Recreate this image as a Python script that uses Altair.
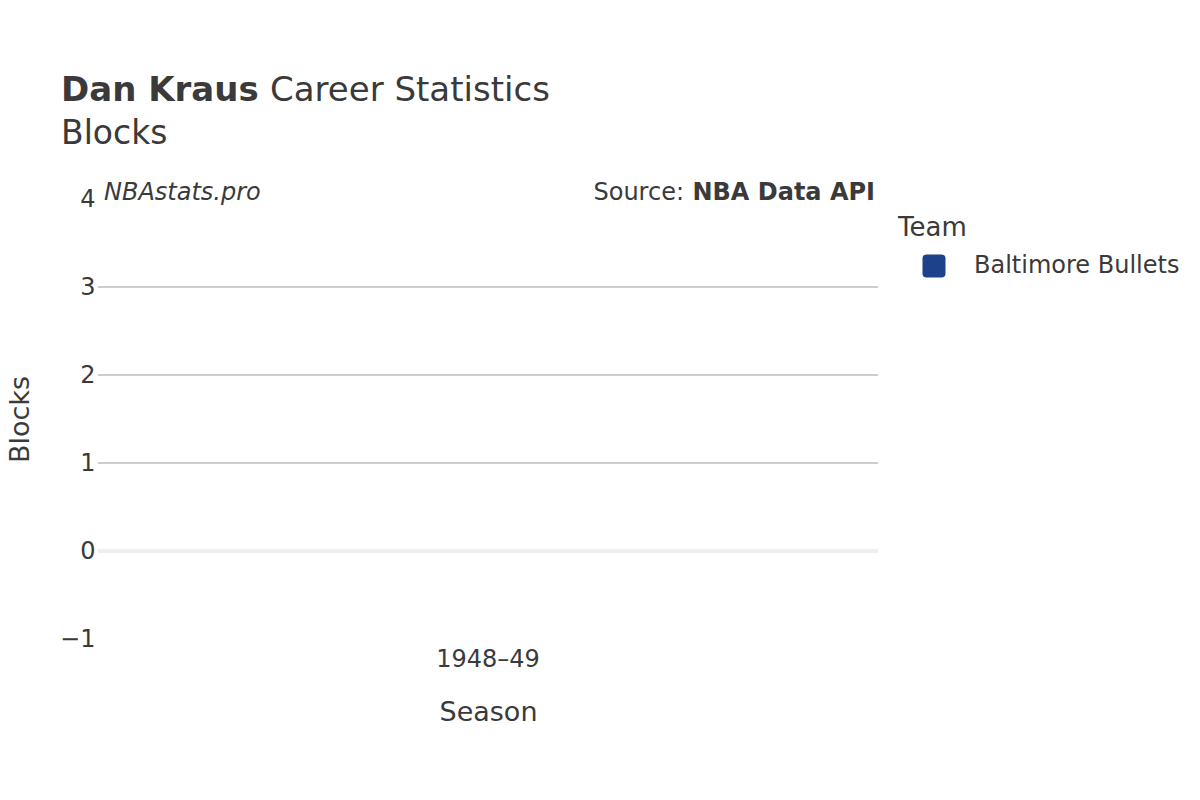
import altair as alt
import pandas as pd

# data
seasons = ["1948–49"]
teams = ["Baltimore Bullets"]
blocks = [0]
team_colors = ["#1D428A"]

grid_values = [1, 2, 3]
zero_value = [0]
y_ticks = [-1, 0, 1, 2, 3, 4]

FONT = "DejaVu Sans"
TXT = "#3a3a3a"

df = pd.DataFrame({"Season": seasons, "Team": teams, "Blocks": blocks})

yscale = alt.Scale(domain=[-1, 4], nice=False, zero=False)

rounded_sq = ("M-0.65,-1 L0.65,-1 Q1,-1 1,-0.65 L1,0.65 Q1,1 0.65,1 "
              "L-0.65,1 Q-1,1 -1,0.65 L-1,-0.65 Q-1,-1 -0.65,-1 Z")

grid = alt.Chart(pd.DataFrame({"v": grid_values})).mark_rule(
    color="#bdbdbd", strokeWidth=1.5
).encode(y=alt.Y("v:Q", scale=yscale))

zero = alt.Chart(pd.DataFrame({"v": zero_value})).mark_rule(
    color="#eeeeee", strokeWidth=4
).encode(y=alt.Y("v:Q", scale=yscale))

bars = alt.Chart(df).mark_bar(size=300).encode(
    x=alt.X("Season:N", title="Season",
            axis=alt.Axis(labelAngle=0, ticks=False, domain=False, grid=False,
                          labelFontSize=24, labelPadding=8, labelColor=TXT,
                          titleFontSize=27, titleFontWeight="normal",
                          titleColor=TXT, titlePadding=28)),
    y=alt.Y("Blocks:Q", scale=yscale, title="Blocks",
            axis=alt.Axis(values=y_ticks, format="d", ticks=False, domain=False,
                          grid=False, labelFontSize=24, labelPadding=3,
                          labelColor=TXT, labelFlush=False, labelOverlap=False,
                          titleFontSize=27, titleFontWeight="normal",
                          titleColor=TXT, titlePadding=25)),
    color=alt.Color("Team:N", scale=alt.Scale(domain=teams, range=team_colors),
                    legend=alt.Legend(title=None, orient="none",
                                      legendX=824, legendY=55,
                                      labelFontSize=24, labelLimit=400,
                                      labelColor=TXT, symbolType=rounded_sq,
                                      symbolSize=529, symbolOpacity=1,
                                      symbolStrokeWidth=0, labelOffset=28,
                                      offset=0, padding=0, rowPadding=0)),
)

def txt(s, x, y, size, weight="normal", style="normal", align="left"):
    return alt.Chart(pd.DataFrame({"t": [s]})).mark_text(
        font=FONT, fontSize=size, fontWeight=weight, fontStyle=style,
        color=TXT, align=align, baseline="alphabetic"
    ).encode(text="t:N", x=alt.value(x), y=alt.value(y))

title_name = txt("Dan Kraus", -37, -98, 34, weight="bold")
title_rest = txt("Career Statistics", 172, -98, 34)
subtitle = txt("Blocks", -37, -55, 33)
brand = txt("NBAstats.pro", 6, 1, 24, style="italic")
src_a = txt("Source:", 586, 1, 24, align="right")
src_b = txt("NBA Data API", 777, 1, 24, weight="bold", align="right")
legend_title = txt("Team", 800, 37, 26)

chart = alt.layer(
    zero, grid, bars, title_name, title_rest, subtitle, brand, src_a, src_b,
    legend_title
).properties(
    width=780, height=440,
    autosize=alt.AutoSizeParams(type="none"),
    padding={"left": 90, "top": 191, "right": 314, "bottom": 153},
    background="white",
).configure(font=FONT).configure_view(strokeWidth=0, stroke="transparent")

chart.save("out.html", embed_options={"renderer": "svg", "actions": False})
